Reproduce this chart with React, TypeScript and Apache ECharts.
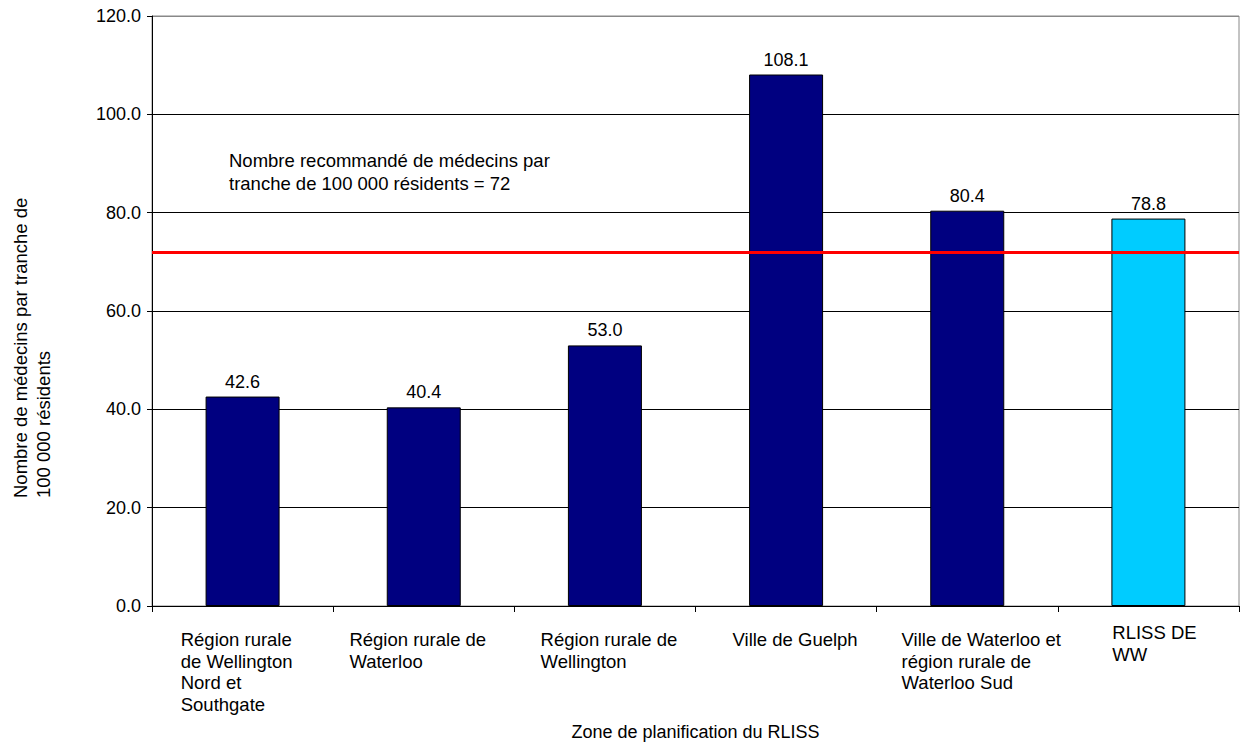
import React, { useEffect, useRef } from "react";
import * as echarts from "echarts";

// Physicians per 100 000 residents, by LHIN planning zone
const categories: string[] = [
  "Région rurale\nde Wellington\nNord et\nSouthgate",
  "Région rurale de\nWaterloo",
  "Région rurale de\nWellington",
  "Ville de Guelph",
  "Ville de Waterloo et\nrégion rurale de\nWaterloo Sud",
  "RLISS DE\nWW",
];
const values: number[] = [42.6, 40.4, 53.0, 108.1, 80.4, 78.8];
const barColors: string[] = ["#000080", "#000080", "#000080", "#000080", "#000080", "#00CCFF"];
const recommended = 72;
const yTicks = { min: 0, max: 120, interval: 20 };

// Small horizontal / vertical nudges for the wrapped category labels (px)
const labelShiftX: number[] = [-6, -6, 4, 9, 14, 6];
const labelShiftY: number[] = [0, 0, 0, 0, 0, -7];

const FONT = "'Liberation Sans', Arial, Helvetica, sans-serif";

function labelPadding(i: number): number[] {
  const dx = labelShiftX[i];
  const dy = labelShiftY[i];
  return [dy, dx < 0 ? -2 * dx : 0, 0, dx > 0 ? 2 * dx : 0];
}

export default function App() {
  const ref = useRef<HTMLDivElement>(null);

  useEffect(() => {
    if (!ref.current) return;
    const chart = echarts.init(ref.current, undefined, { renderer: "svg" });

    chart.setOption({
      animation: false,
      backgroundColor: "#ffffff",
      textStyle: { fontFamily: FONT, color: "#000" },
      grid: {
        left: 152,
        right: 1,
        top: 16,
        bottom: 141,
        outerBoundsMode: "none",
        containLabel: false,
        show: true,
        borderColor: "#888888",
        borderWidth: 1,
      },
      xAxis: {
        type: "category",
        data: categories.map((c, i) => ({
          value: c,
          textStyle: { padding: labelPadding(i) },
        })),
        boundaryGap: true,
        name: "Zone de planification du RLISS",
        nameLocation: "middle",
        nameGap: 117,
        nameTextStyle: { fontFamily: FONT, fontSize: 18, color: "#000" },
        axisLine: { show: true, lineStyle: { color: "#000", width: 1 } },
        axisTick: { show: true, length: 6, lineStyle: { color: "#000" } },
        axisLabel: {
          interval: 0,
          margin: 23,
          align: "center",
          verticalAlign: "top",
          formatter: (v: string) =>
            v
              .split("\n")
              .map((line) => `{a|${line}}`)
              .join("\n"),
          rich: {
            a: {
              align: "left",
              fontFamily: FONT,
              fontSize: 18.5,
              lineHeight: 21.5,
              color: "#000",
            },
          },
        },
      },
      yAxis: {
        type: "value",
        min: yTicks.min,
        max: yTicks.max,
        interval: yTicks.interval,
        axisLine: { show: true, lineStyle: { color: "#000", width: 1 } },
        axisTick: { show: true, length: 5, lineStyle: { color: "#000" } },
        axisLabel: {
          margin: 11,
          fontFamily: FONT,
          fontSize: 18,
          color: "#000",
          formatter: (v: number) => v.toFixed(1),
        },
        splitLine: {
          show: true,
          lineStyle: {
            color: ["#000", "#000", "#000", "#000", "#000", "#000", "#888"],
            width: 1,
          },
        },
      },
      series: [
        {
          type: "bar",
          data: values.map((v, i) => ({
            value: v,
            itemStyle: { color: barColors[i] },
          })),
          barWidth: 74,
          itemStyle: { borderColor: "#000", borderWidth: 1 },
          label: {
            show: true,
            position: "top",
            distance: 6,
            fontFamily: FONT,
            fontSize: 18,
            color: "#000",
            formatter: (p: any) => Number(p.value).toFixed(1),
          },
          markLine: {
            silent: true,
            symbol: "none",
            label: { show: false },
            lineStyle: { color: "#FF0000", width: 3, type: "solid" },
            data: [{ yAxis: recommended }],
          },
        },
      ],
      graphic: [
        {
          type: "text",
          left: 229,
          top: 149,
          style: {
            text: `Nombre recommandé de médecins par\ntranche de 100 000 résidents = ${recommended}`,
            font: `18.5px ${FONT}`,
            fill: "#000",
            lineHeight: 23,
          },
        },
        {
          type: "text",
          x: 9,
          y: 498,
          rotation: Math.PI / 2,
          style: {
            text: "Nombre de médecins par tranche de\n100 000 résidents",
            font: `18.5px ${FONT}`,
            fill: "#000",
            lineHeight: 23,
            align: "left",
            verticalAlign: "top",
          },
        },
      ],
    });

    return () => chart.dispose();
  }, []);

  return (
    <div
      ref={ref}
      style={{ position: "fixed", left: 0, top: 0, width: 1240, height: 747 }}
    />
  );
}
